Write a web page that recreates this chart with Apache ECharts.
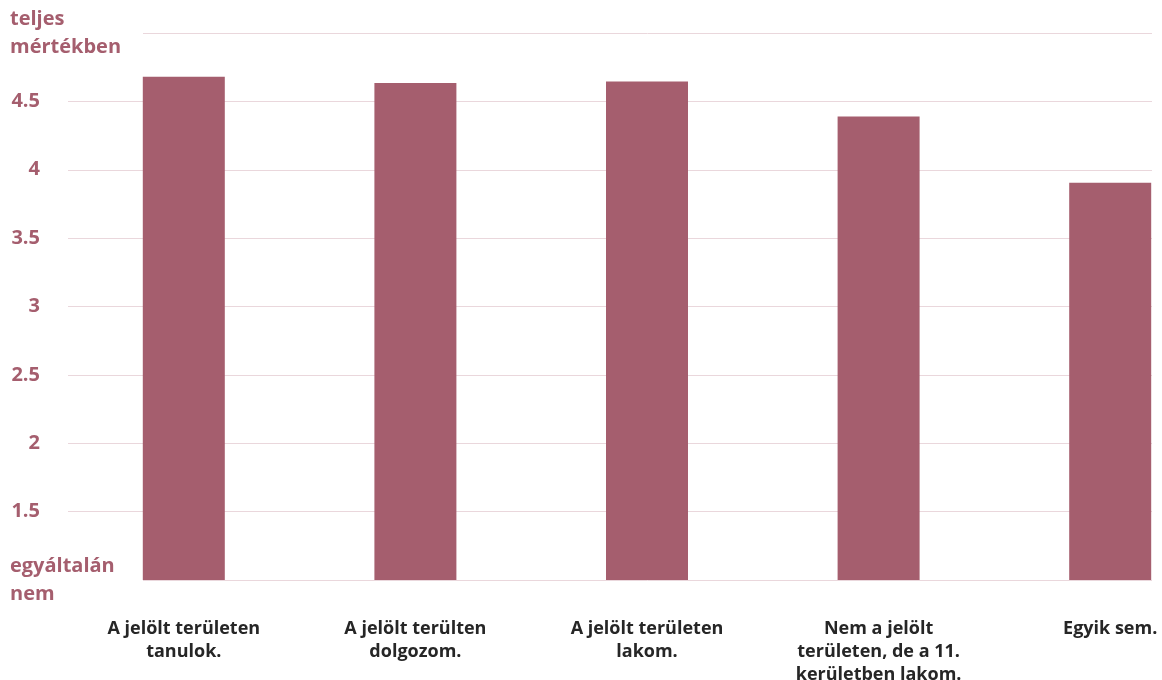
<!DOCTYPE html>
<html>
<head>
<meta charset="utf-8">
<script src="https://cdn.jsdelivr.net/npm/echarts@6/dist/echarts.min.js"></script>
<style>
html,body{margin:0;padding:0;background:#fff;}
#chart{width:1162px;height:680px;}
</style>
</head>
<body>
<div id="chart"></div>
<script>
const categories = [
  'A jelölt területen\ntanulok.',
  'A jelölt terülten\ndolgozom.',
  'A jelölt területen\nlakom.',
  'Nem a jelölt\nterületen, de a 11.\nkerületben lakom.',
  'Egyik sem.'
];
const values = [4.68, 4.635, 4.645, 4.39, 3.905];
const yEndLabels = ['egyáltalán\nnem', 'teljes\nmértékben'];
const yMin = 1, yMax = 5, yInnerMin = 1.5, yInnerMax = 4.5, yStep = 0.5;

const barColor = '#A55E6E';
const gridColor = '#EAD7DC';
const font = '"Open Sans", "Noto Sans", sans-serif';

const chart = echarts.init(document.getElementById('chart'), null, {renderer: 'canvas'});
const plotTop = 33, plotBottom = 100, plotH = 680 - plotTop - plotBottom;
const unit = plotH / (yMax - yMin);

chart.setOption({
  animation: false,
  backgroundColor: '#ffffff',
  grid: [
    {left: 68, width: 1158, top: plotTop, height: plotH, outerBoundsMode: 'none', containLabel: false},
    {left: 68, right: 10, top: plotTop + (yMax - yInnerMax) * unit, height: (yInnerMax - yInnerMin) * unit, outerBoundsMode: 'none', containLabel: false},
    {left: 143, right: 10, top: plotTop, height: plotH, outerBoundsMode: 'none', containLabel: false}
  ],
  xAxis: [
    {
      gridIndex: 0, type: 'category', data: categories,
      axisLine: {show: false}, axisTick: {show: false}, splitLine: {show: false},
      axisLabel: {
        interval: 0, margin: 37, color: '#262626', fontFamily: font,
        fontWeight: 'bold', fontSize: 18, lineHeight: 23
      }
    },
    {gridIndex: 1, type: 'value', show: false, min: 0, max: 1},
    {gridIndex: 2, type: 'value', show: false, min: 0, max: 1}
  ],
  yAxis: [
    {gridIndex: 0, type: 'value', min: yMin, max: yMax, show: false},
    {
      gridIndex: 1, type: 'value', min: yInnerMin, max: yInnerMax, interval: yStep,
      axisLine: {show: false}, axisTick: {show: false},
      splitLine: {show: true, lineStyle: {color: gridColor, width: 1}},
      axisLabel: {
        margin: 28, align: 'right', color: barColor, fontFamily: font,
        fontWeight: 'bold', fontSize: 20
      }
    },
    {
      gridIndex: 2, type: 'category', data: yEndLabels, boundaryGap: false,
      axisLine: {show: false}, axisTick: {show: false},
      splitLine: {show: true, lineStyle: {color: gridColor, width: 1}},
      axisLabel: {
        interval: 0, margin: 133, align: 'left', color: barColor, fontFamily: font,
        fontWeight: 'bold', fontSize: 20, lineHeight: 28
      }
    }
  ],
  series: [
    {
      type: 'bar', xAxisIndex: 0, yAxisIndex: 0, data: values,
      barWidth: 82, itemStyle: {color: barColor}, z: 3
    }
  ]
});
</script>
</body>
</html>
